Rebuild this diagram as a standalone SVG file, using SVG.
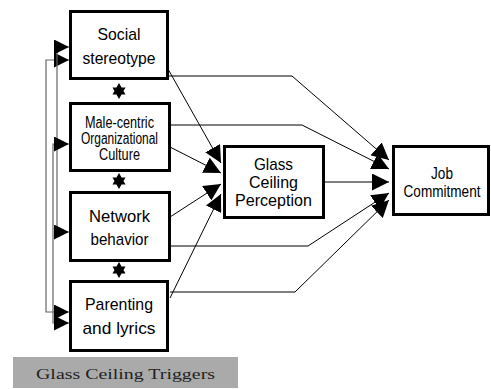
<svg xmlns="http://www.w3.org/2000/svg" width="491" height="389" viewBox="0 0 491 389">
<defs>
<style>
.box{fill:#fff;stroke:#000;stroke-width:3}
.t{font-family:"Liberation Sans Narrow","Liberation Sans",Arial,sans-serif;font-size:17px;fill:#000;text-anchor:middle}
.ts{font-size:16px}
.ln{fill:none;stroke:#000;stroke-width:1}
.fb{fill:none;stroke:#666;stroke-width:1.2}
</style>
<marker id="ah" viewBox="0 0 10 10" refX="10" refY="5" markerWidth="15" markerHeight="15" markerUnits="userSpaceOnUse" orient="auto-start-reverse">
<path d="M0,0 L10,5 L0,10 Z" fill="#000"/>
</marker>
<marker id="ah2" viewBox="0 0 10 10" refX="10" refY="5" markerWidth="17" markerHeight="17" markerUnits="userSpaceOnUse" orient="auto">
<path d="M0,0 L10,5 L0,10 Z" fill="#000"/>
</marker>
<path id="star" d="M0,-8 L6.5,3.5 L-6.5,3.5 Z M0,8 L-6.5,-3.5 L6.5,-3.5 Z" fill="#000" fill-rule="nonzero"/>
</defs>
<rect width="491" height="389" fill="#fff"/>
<g id="connectors">
<path class="fb" d="M69,60 H46 V312 H69" marker-start="url(#ah)" marker-end="url(#ah)"/>
<path class="fb" d="M69,47 H57 V232 H69" marker-start="url(#ah)" marker-end="url(#ah)"/>
<path class="fb" d="M69,144 H53 V323 H69" marker-start="url(#ah)" marker-end="url(#ah)"/>
<path class="ln" d="M168,69 L221,163" marker-end="url(#ah2)"/>
<path class="ln" d="M170,147 L221,173" marker-end="url(#ah2)"/>
<path class="ln" d="M170,217 L221,184" marker-end="url(#ah2)"/>
<path class="ln" d="M170,298 L221,194" marker-end="url(#ah2)"/>
<path class="ln" d="M168,76 H292 L389,160" marker-end="url(#ah2)"/>
<path class="ln" d="M170,125 H302 L389,169" marker-end="url(#ah2)"/>
<path class="ln" d="M324,182 H389" marker-end="url(#ah2)"/>
<path class="ln" d="M170,246 H308 L389,193" marker-end="url(#ah2)"/>
<path class="ln" d="M170,292 H295 L389,200" marker-end="url(#ah2)"/>
<use href="#star" x="119" y="91"/>
<use href="#star" x="119" y="181"/>
<use href="#star" x="119" y="270"/>
</g>
<g id="social">
<rect class="box" x="70.5" y="11.5" width="97" height="67"/>
<text class="t" x="119" y="40" textLength="43" lengthAdjust="spacingAndGlyphs">Social</text>
<text class="t" x="119" y="64" textLength="73" lengthAdjust="spacingAndGlyphs">stereotype</text>
</g>
<g id="male">
<rect class="box" x="70.5" y="103.5" width="99" height="67"/>
<text class="t ts" x="119.5" y="128" textLength="69" lengthAdjust="spacingAndGlyphs">Male-centric</text>
<text class="t ts" x="119.5" y="144" textLength="77" lengthAdjust="spacingAndGlyphs">Organizational</text>
<text class="t ts" x="119.5" y="160" textLength="41" lengthAdjust="spacingAndGlyphs">Culture</text>
</g>
<g id="network">
<rect class="box" x="70.5" y="192.5" width="99" height="68"/>
<text class="t" x="119.5" y="222" textLength="61" lengthAdjust="spacingAndGlyphs">Network</text>
<text class="t" x="119.5" y="245" textLength="58" lengthAdjust="spacingAndGlyphs">behavior</text>
</g>
<g id="parenting">
<rect class="box" x="70.5" y="281.5" width="97" height="69"/>
<text class="t" x="119" y="310" textLength="68" lengthAdjust="spacingAndGlyphs">Parenting</text>
<text class="t" x="119" y="334" textLength="73" lengthAdjust="spacingAndGlyphs">and lyrics</text>
</g>
<g id="glass">
<rect class="box" x="224.5" y="146.5" width="99" height="71"/>
<text class="t" x="273.5" y="170" textLength="39" lengthAdjust="spacingAndGlyphs">Glass</text>
<text class="t" x="273.5" y="188" textLength="49" lengthAdjust="spacingAndGlyphs">Ceiling</text>
<text class="t" x="273.5" y="206" textLength="77" lengthAdjust="spacingAndGlyphs">Perception</text>
</g>
<g id="job">
<rect class="box" x="393.5" y="146.5" width="95" height="68"/>
<text class="t" transform="translate(442,179) scale(0.8,1)" x="0" y="0">Job</text>
<text class="t" transform="translate(442,197) scale(0.8,1)" x="0" y="0">Commitment</text>
</g>
<g id="label">
<rect x="13" y="357" width="225" height="31" fill="#aaa"/>
<text x="125.5" y="379" font-family="'Liberation Serif','Times New Roman',serif" font-size="15" fill="#222" text-anchor="middle" textLength="179" lengthAdjust="spacingAndGlyphs">Glass Ceiling Triggers</text>
</g>
</svg>
